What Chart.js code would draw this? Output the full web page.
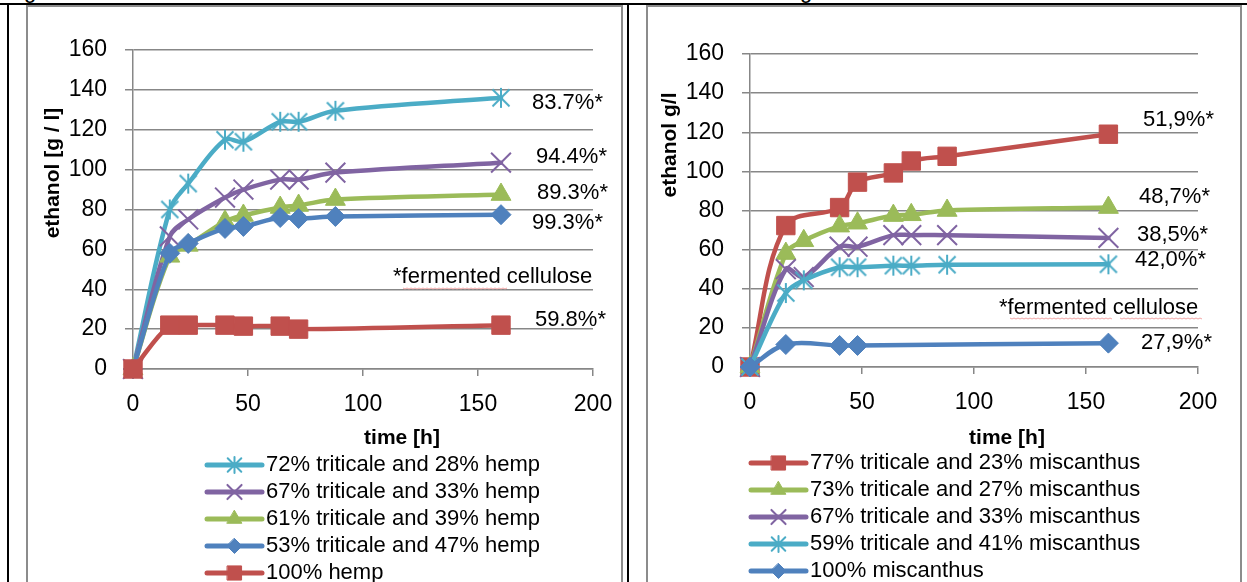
<!DOCTYPE html>
<html><head><meta charset="utf-8">
<script src="https://cdn.jsdelivr.net/npm/chart.js@4.4.0/dist/chart.umd.min.js"></script>
<style>
html,body{margin:0;padding:0;background:#fff;}
#page{position:relative;width:1247px;height:582px;overflow:hidden;background:#fff;font-family:"Liberation Sans",Arial,sans-serif;}
.ln{position:absolute;box-sizing:border-box;}
canvas{position:absolute;left:0;top:0;}
.g{position:absolute;top:-20px;font-size:22px;line-height:22px;color:#000;}
</style></head><body>
<div id="page">
 <div class="g" style="left:24px">g</div>
 <div class="g" style="left:800px">g</div>
 <div class="ln" style="left:26px;top:5px;width:597px;height:600px;border:2px solid #8c8c8c"></div>
 <div class="ln" style="left:646px;top:5px;width:596px;height:600px;border:2px solid #8c8c8c"></div>
 <div class="ln" style="left:0;top:3px;width:1247px;height:2px;background:#000"></div>
 <div class="ln" style="left:7px;top:3px;width:2px;height:579px;background:#000"></div>
 <div class="ln" style="left:627px;top:3px;width:2px;height:579px;background:#000"></div>
 <canvas id="c1" width="1247" height="582"></canvas>
 <canvas id="c2" width="1247" height="582"></canvas>
</div>
<script>
// ---------- DATA ----------
const times = [0, 16, 24, 40, 48, 64, 72, 88, 160];
const xTickValues = [0, 50, 100, 150, 200];
const yTickValues = [0, 20, 40, 60, 80, 100, 120, 140, 160];

const hempNames = ['72% triticale and 28% hemp', '67% triticale and 33% hemp', '61% triticale and 39% hemp', '53% triticale and 47% hemp', '100% hemp'];
const hemp72 = [0, 80, 93, 115, 114, 124, 124, 129.5, 136];
const hemp67 = [0, 66.5, 75, 86, 90, 95, 95, 98.5, 103.5];
const hemp61 = [0, 56.5, 62, 74, 77, 81, 82, 85, 87.5];
const hemp53 = [0, 58, 63, 70.5, 71.5, 76, 75.5, 76.5, 77.4];
const hemp100 = [0, 22, 22, 22, 21.5, 21.5, 20, null, 22];
const hempNotes = ['83.7%*', '94.4%*', '89.3%*', '99.3%*', '*fermented cellulose', '59.8%*'];

const miscNames = ['77% triticale and 23% miscanthus', '73% triticale and 27% miscanthus', '67% triticale and 33% miscanthus', '59% triticale and 41% miscanthus', '100% miscanthus'];
const misc77 = [0, 72.3, null, 81.5, 94.5, 99.2, 105.3, 107.7, 119];
const misc73 = [0, 58, 64.5, 72, 73.5, 77.4, 77.8, 80, 81.5];
const misc67 = [0, 50, 46, 61.5, 61.5, 67.4, 67.4, 67.4, 66];
const misc59 = [0, 37.8, 44.3, 51, 51, 51.8, 51.8, 52.3, 52.5];
const misc100 = [0, 11.5, null, 11, 11, null, null, null, 12.2];
const miscNotes = ['51,9%*', '48,7%*', '38,5%*', '42,0%*', '*fermented cellulose', '27,9%*'];

// ---------- STYLE ----------
const FONT = '"Liberation Sans", Arial, sans-serif';
const C = {cyan: '#4BACC6', purple: '#8064A2', green: '#9BBB59', blue: '#4F81BD', red: '#C0504D'};
const GRID = '#878787';

function starImg(color, size, lw) {
  const c = document.createElement('canvas');
  c.width = c.height = size;
  const x = c.getContext('2d');
  x.strokeStyle = color; x.lineWidth = lw;
  const m = size / 2, r = size / 2 - 1, d = r * 0.85;
  x.beginPath();
  x.moveTo(m, m - r); x.lineTo(m, m + r);
  x.moveTo(m - d, m - d); x.lineTo(m + d, m + d);
  x.moveTo(m + d, m - d); x.lineTo(m - d, m + d);
  x.stroke();
  return c;
}

const markers = {
  star:     {style: 'star', r: 10, lr: 8, bw: 2},
  cross:    {style: 'crossRot', r: 14, lr: 10, bw: 2},
  triangle: {style: 'triangle', r: 11.5, lr: 8.5, bw: 1},
  diamond:  {style: 'rectRot', r: 10, lr: 7.5, bw: 1},
  square:   {style: 'rect', r: 13, lr: 10, bw: 1}
};

function drawMarker(ctx, kind, color, x, y, r, lw) {
  ctx.save();
  ctx.fillStyle = color; ctx.strokeStyle = color; ctx.lineWidth = lw;
  ctx.beginPath();
  if (kind === 'star') {
    const d = r * 0.85;
    ctx.moveTo(x, y - r); ctx.lineTo(x, y + r);
    ctx.moveTo(x - d, y - d); ctx.lineTo(x + d, y + d);
    ctx.moveTo(x + d, y - d); ctx.lineTo(x - d, y + d);
    ctx.stroke();
  } else if (kind === 'crossRot') {
    const d = r * Math.SQRT1_2;
    ctx.moveTo(x - d, y - d); ctx.lineTo(x + d, y + d);
    ctx.moveTo(x + d, y - d); ctx.lineTo(x - d, y + d);
    ctx.stroke();
  } else if (kind === 'triangle') {
    ctx.moveTo(x, y - r);
    ctx.lineTo(x + r * Math.sin(2 * Math.PI / 3), y - r * Math.cos(2 * Math.PI / 3));
    ctx.lineTo(x + r * Math.sin(4 * Math.PI / 3), y - r * Math.cos(4 * Math.PI / 3));
    ctx.closePath(); ctx.fill(); ctx.stroke();
  } else if (kind === 'rectRot') {
    ctx.moveTo(x, y - r); ctx.lineTo(x + r, y); ctx.lineTo(x, y + r); ctx.lineTo(x - r, y);
    ctx.closePath(); ctx.fill(); ctx.stroke();
  } else {
    const s = r * Math.SQRT1_2;
    ctx.rect(x - s, y - s, 2 * s, 2 * s); ctx.fill(); ctx.stroke();
  }
  ctx.restore();
}

function makeDataset(label, values, color, mk, idx, n) {
  const m = markers[mk];
  const ps = m.style === 'star' ? starImg(color, 2 * m.r + 2, m.bw) : m.style;
  return {
    label: label,
    data: times.map((t, i) => ({x: t, y: values[i]})).filter(p => p.y !== null),
    borderColor: color, backgroundColor: color,
    borderWidth: 4.5, tension: 0.35,
    borderJoinStyle: 'round', borderCapStyle: 'round',
    pointStyle: ps, pointRadius: m.r, pointBorderWidth: m.bw,
    pointBackgroundColor: color, pointBorderColor: color,
    order: n - 1 - idx, clip: false,
    _marker: mk
  };
}

function overlayPlugin(L) {
  return {
    id: 'overlay',
    afterDraw(chart) {
      const ctx = chart.ctx;
      ctx.save();
      ctx.fillStyle = '#000';
      // y title
      ctx.font = 'bold 21px ' + FONT;
      ctx.textAlign = 'center'; ctx.textBaseline = 'middle';
      ctx.save();
      ctx.translate(L.yTitlePos[0], L.yTitlePos[1]);
      ctx.rotate(-Math.PI / 2);
      ctx.fillText(L.yTitle, 0, 0);
      ctx.restore();
      // x title
      ctx.fillText(L.xTitle, L.xTitlePos[0], L.xTitlePos[1]);
      // notes
      ctx.font = '22px ' + FONT;
      ctx.textAlign = 'left';
      L.notes.forEach((t, i) => ctx.fillText(t, L.notePos[i][0], L.notePos[i][1]));
      // spell-check underline
      ctx.strokeStyle = '#f2a6a6'; ctx.lineWidth = 1;
      L.underline.forEach(u => {
        ctx.beginPath();
        for (let x = u[0], k = 0; x <= u[1]; x += 2, k++) {
          const y = u[2] + (k % 2 ? 1 : 0);
          if (k === 0) ctx.moveTo(x, y); else ctx.lineTo(x, y);
        }
        ctx.stroke();
      });
      // legend
      const lg = L.legend;
      chart.data.datasets.forEach((ds, i) => {
        const y = lg.y0 + i * lg.dy;
        ctx.strokeStyle = ds.borderColor; ctx.lineWidth = 5; ctx.lineCap = 'round';
        ctx.beginPath(); ctx.moveTo(lg.x0, y); ctx.lineTo(lg.x1, y); ctx.stroke();
        const m = markers[ds._marker];
        drawMarker(ctx, m.style, ds.borderColor, (lg.x0 + lg.x1) / 2, y, m.lr, m.bw);
        ctx.fillStyle = '#000';
        ctx.font = '22px ' + FONT; ctx.textAlign = 'left'; ctx.textBaseline = 'middle';
        ctx.fillText(ds.label, lg.tx, y);
      });
      ctx.restore();
    }
  };
}

function makeChart(canvasId, datasets, L) {
  const yW = 90, xH = 80;
  new Chart(document.getElementById(canvasId), {
    type: 'line',
    data: {datasets: datasets},
    options: {
      responsive: false, animation: false, devicePixelRatio: 1,
      layout: {padding: {left: L.area.left - yW, right: 1247 - L.area.right, top: L.area.top, bottom: 582 - L.area.bottom - xH}},
      plugins: {legend: {display: false}, tooltip: {enabled: false}},
      scales: {
        x: {
          type: 'linear', min: xTickValues[0], max: xTickValues[xTickValues.length - 1],
          afterFit: s => { s.height = xH; },
          ticks: {stepSize: xTickValues[1] - xTickValues[0], color: '#000', font: {size: 23, family: FONT}, padding: 15, maxRotation: 0},
          grid: {drawOnChartArea: false, drawTicks: true, tickLength: 7, color: GRID, lineWidth: 1.5},
          border: {display: true, color: GRID, width: 1.5}
        },
        y: {
          min: yTickValues[0], max: yTickValues[yTickValues.length - 1],
          afterFit: s => { s.width = yW; },
          ticks: {stepSize: yTickValues[1] - yTickValues[0], color: '#000', font: {size: 23, family: FONT}, padding: 18},
          grid: {color: GRID, lineWidth: 1.5, tickLength: 8},
          border: {display: true, color: GRID, width: 1.5}
        }
      }
    },
    plugins: [overlayPlugin(L)]
  });
}

const hempDatasets = [
  makeDataset(hempNames[0], hemp72, C.cyan, 'star', 0, 5),
  makeDataset(hempNames[1], hemp67, C.purple, 'cross', 1, 5),
  makeDataset(hempNames[2], hemp61, C.green, 'triangle', 2, 5),
  makeDataset(hempNames[3], hemp53, C.blue, 'diamond', 3, 5),
  makeDataset(hempNames[4], hemp100, C.red, 'square', 4, 5)
];
const miscDatasets = [
  makeDataset(miscNames[0], misc77, C.red, 'square', 0, 5),
  makeDataset(miscNames[1], misc73, C.green, 'triangle', 1, 5),
  makeDataset(miscNames[2], misc67, C.purple, 'cross', 2, 5),
  makeDataset(miscNames[3], misc59, C.cyan, 'star', 3, 5),
  makeDataset(miscNames[4], misc100, C.blue, 'diamond', 4, 5)
];

makeChart('c1', hempDatasets, {
  area: {left: 133, right: 593, top: 50, bottom: 369},
  yTitle: 'ethanol [g / l]', yTitlePos: [53, 173],
  xTitle: 'time [h]', xTitlePos: [402, 438],
  notes: hempNotes,
  notePos: [[532, 103], [536, 157], [537, 193], [532, 223], [393, 277], [535, 320]],
  underline: [[403, 508, 288]],
  legend: {x0: 207, x1: 262, tx: 266, y0: 465, dy: 27}
});
makeChart('c2', miscDatasets, {
  area: {left: 750, right: 1198, top: 54, bottom: 367},
  yTitle: 'ethanol g/l', yTitlePos: [670, 145],
  xTitle: 'time [h]', xTitlePos: [1007, 438],
  notes: miscNotes,
  notePos: [[1143, 120], [1139, 197], [1137, 235], [1135, 260], [999, 308], [1141, 343]],
  underline: [[1010, 1113, 318], [1120, 1203, 318]],
  legend: {x0: 751, x1: 806, tx: 810, y0: 463, dy: 27}
});
</script>
</body></html>
